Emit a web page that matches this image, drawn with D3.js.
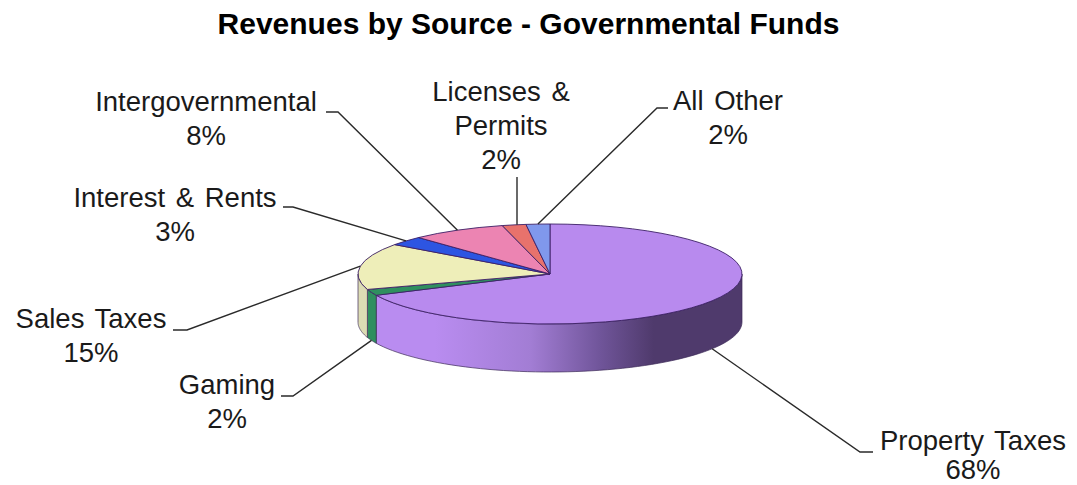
<!DOCTYPE html>
<html>
<head>
<meta charset="utf-8">
<script src="https://cdnjs.cloudflare.com/ajax/libs/d3/7.8.5/d3.min.js"></script>
<style>
  html, body { margin: 0; padding: 0; background: #fff; }
  text { font-family: "Liberation Sans", Arial, sans-serif; fill: #1a1a1a; }
</style>
</head>
<body>
<svg id="chart" width="1077" height="485" style="display:block"></svg>
<script>
const categories = ["Property Taxes", "Gaming", "Sales Taxes", "Interest & Rents", "Intergovernmental", "Licenses & Permits", "All Other"];
const shares = [68, 2, 15, 3, 8, 2, 2];
const topColors = ["#b88aee", "#2f8f5f", "#eeeeb9", "#2d55e2", "#ec84b2", "#e8726c", "#8098ec"];
const wallColors = ["url(#wallShade)", "#2f8f5f", "#dcdcb4", "#2d55e2", "#ec84b2", "#e8726c", "#8098ec"];
const labelLines = [["Property Taxes", "68%"], ["Gaming", "2%"], ["Sales Taxes", "15%"], ["Interest & Rents", "3%"], ["Intergovernmental", "8%"], ["Licenses &", "Permits", "2%"], ["All Other", "2%"]];
const labelAnchors = [[973, 450], [227, 394], [91, 328], [175, 207], [206, 111], [501, 101], [728, 110]];
const labelLeading = [29, 34, 34, 34, 34, 34, 34];
const leaderBends = [[[860, 452], [873, 452]], [[293, 396], [281, 396]], [[187, 330], [173, 330]], [[293, 207], [283, 207]], [[338, 112], [326, 112]], [[517, 177]], [[657, 108], [668, 108]]];

const cx = 550, cy = 274, rx = 192, ry = 50, depth = 48;
const svg = d3.select("#chart");

// Horizontal shading on the rim of the largest slice
const grad = svg.append("defs").append("linearGradient")
  .attr("id", "wallShade").attr("gradientUnits", "userSpaceOnUse")
  .attr("x1", cx - rx).attr("x2", cx + rx).attr("y1", 0).attr("y2", 0);
[[0, "#b98cf0"], [0.2, "#b98cf0"], [0.45, "#a27dd4"], [0.63, "#70559a"], [0.77, "#4f3a6c"], [1, "#4f3a6c"]]
  .forEach(([o, c]) => grad.append("stop").attr("offset", o).attr("stop-color", c));

svg.append("text").attr("x", 528.5).attr("y", 34).attr("text-anchor", "middle")
  .attr("font-size", 30).attr("font-weight", "bold")
  .style("fill", "#000").text("Revenues by Source - Governmental Funds");

const arcs = d3.pie().sort(null).value(d => d)(shares);
const px = t => cx + rx * Math.sin(t);
const py = t => cy - ry * Math.cos(t);

// Rim of the disc: only the part of each slice on the near side
const wall = svg.append("g");
arcs.forEach((a, i) => {
  const t0 = Math.max(a.startAngle, Math.PI / 2);
  const t1 = Math.min(a.endAngle, 3 * Math.PI / 2);
  if (t1 <= t0) return;
  const ts = d3.range(0, 65).map(k => t0 + (t1 - t0) * k / 64);
  const rim = ts.map(t => [px(t), py(t)]);
  const lower = ts.slice().reverse().map(t => [px(t), py(t) + depth]);
  wall.append("path")
    .attr("d", d3.line()(rim.concat(lower)) + "Z")
    .attr("fill", wallColors[i]).attr("stroke", "#3c2a58").attr("stroke-width", 0.7);
});

// Top face: circular arcs squashed into the ellipse
const arcGen = d3.arc().innerRadius(0).outerRadius(rx);
svg.append("g").attr("transform", `translate(${cx},${cy}) scale(1,${ry / rx})`)
  .selectAll("path").data(arcs).join("path")
  .attr("d", arcGen)
  .attr("fill", (d, i) => topColors[i])
  .attr("stroke", "#3c1f66").attr("stroke-width", 0.9)
  .attr("vector-effect", "non-scaling-stroke");

// Leader lines run from each slice's outer edge to its label;
// a single-bend leader drops straight down onto the rim
arcs.forEach((a, i) => {
  const t = (a.startAngle + a.endAngle) / 2;
  const near = Math.cos(t) < 0;
  const bends = leaderBends[i];
  let start = [px(t), py(t) + (near ? depth : 0)];
  if (bends.length === 1) {
    const x = bends[0][0];
    start = [x, cy - ry * Math.sqrt(1 - ((x - cx) / rx) ** 2)];
  }
  svg.append("path")
    .attr("d", d3.line()([start, ...bends]))
    .attr("fill", "none").attr("stroke", "#2a2a2a").attr("stroke-width", 1.4);
});

// Category and percentage labels
labelLines.forEach((lines, i) => {
  const t = svg.append("text").attr("text-anchor", "middle").attr("font-size", 27.5).attr("word-spacing", "3px")
    .attr("x", labelAnchors[i][0]).attr("y", labelAnchors[i][1]);
  lines.forEach((s, k) => t.append("tspan")
    .attr("x", labelAnchors[i][0]).attr("dy", k ? labelLeading[i] : 0).text(s));
});
</script>
</body>
</html>
